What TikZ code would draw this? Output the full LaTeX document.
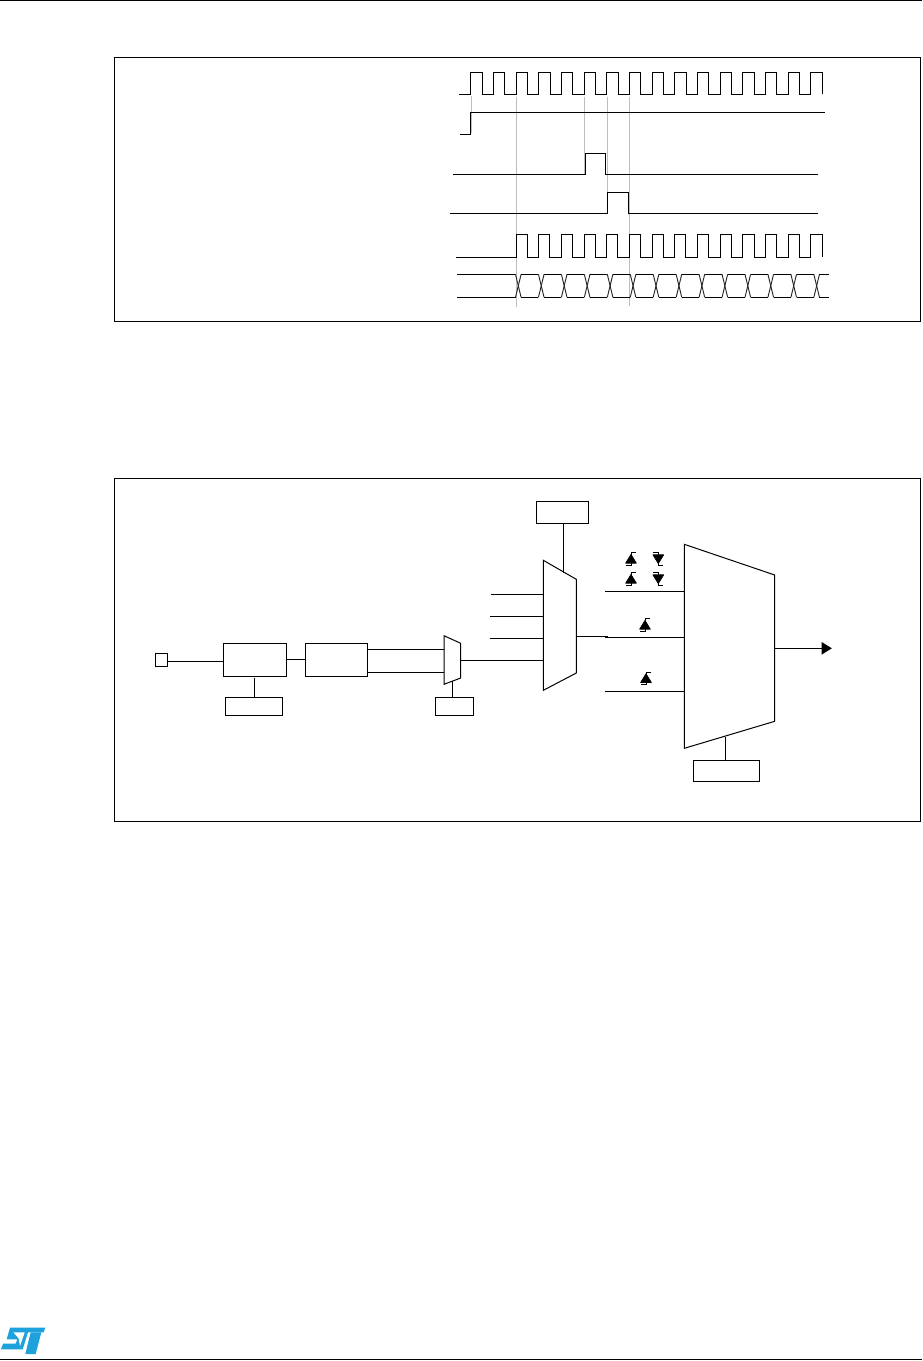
\documentclass[tikz,border=0pt]{standalone}
\usetikzlibrary{calc}
\definecolor{stblue}{HTML}{1FA2DC}
\definecolor{guide}{HTML}{BDBDBD}
\tikzset{
  wave/.style={draw=black,line width=0.75pt,line join=miter},
  dataline/.style={draw=black!85,line width=0.7pt},
  guideline/.style={draw=guide,line width=0.75pt},
  blockbox/.style={draw=black,fill=white,line width=0.75pt,inner sep=0pt,outer sep=0pt,rectangle},
  muxshape/.style={draw=black,fill=white,line width=0.75pt,line join=miter},
  wire/.style={draw=black,line width=0.75pt},
  edgesym/.style={draw=black,line width=0.6pt},
  edgetri/.style={draw=black,fill=black,line width=0.5pt,line join=round},
  rule/.style={draw=black,line width=0.9pt},
  pics/risesym/.style={code={
    \draw[edgesym] (-5,6.2) -- (0,6.2) -- (0,-6.2) -- (5,-6.2);
    \path[edgetri] (-5.4,4.2) -- (0,-4.6) -- (5.4,4.2) -- cycle;
  }},
  pics/fallsym/.style={code={
    \draw[edgesym] (-5,-6.2) -- (0,-6.2) -- (0,6.2) -- (5,6.2);
    \path[edgetri] (-5.4,-4.2) -- (0,4.6) -- (5.4,-4.2) -- cycle;
  }}
}
\newcommand{\blk}[5]{\node[blockbox,minimum width=#4*0.75pt,minimum height=#5*0.75pt] (#1) at (#2,#3) {};}
\begin{document}
\begin{tikzpicture}[x=0.75pt,y=-0.75pt]
\path[use as bounding box,fill=white] (0,0) rectangle (922,1361);
% page rules
\coordinate (ruleTL) at (0,0.6); \coordinate (ruleTR) at (922,0.6);
\coordinate (ruleBL) at (0,1359.8); \coordinate (ruleBR) at (922,1359.8);
\draw[rule] (ruleTL) -- (ruleTR);
\draw[rule] (ruleBL) -- (ruleBR);
% frames
\node[blockbox,minimum width=805.5*0.75pt,minimum height=264*0.75pt] (frameA) at (517.3,189) {};
\node[blockbox,minimum width=805.5*0.75pt,minimum height=343.4*0.75pt] (frameB) at (517.3,649.7) {};
% guide lines
\draw[guideline] (471.3,96) -- (471.3,133);
\draw[guideline] (516.6,96.7) -- (516.6,307);
\draw[guideline] (584.5,96.7) -- (584.5,175);
\draw[guideline] (607.5,96.7) -- (607.5,192);
\draw[guideline] (629.4,96.7) -- (629.4,306);
% wave 1: clock
\draw[wave] (459,94) foreach \k in {0,...,15} {
  -- ({470.7+22.67*\k},94) -- ({470.7+22.67*\k},72) -- ({482+22.67*\k},72) -- ({482+22.67*\k},94)
};
% wave 2
\draw[wave] (460,134) -- (470.7,134) -- (470.7,112.3) -- (825,112.3);
% wave 3
\draw[wave] (453,174) -- (585,174) -- (585,153.7) -- (605.7,153.7) -- (605.7,174) -- (817.7,174);
% wave 4
\draw[wave] (450,213.3) -- (607.5,213.3) -- (607.5,192.3) -- (628.7,192.3) -- (628.7,213.3) -- (818,213.3);
% wave 5
\draw[wave] (456,257) foreach \k in {0,...,13} {
  -- ({516+22.67*\k},257) -- ({516+22.67*\k},234.3) -- ({527.3+22.67*\k},234.3) -- ({527.3+22.67*\k},257)
};
% wave 6: data
\draw[wave] (457,274.3) -- (515.5,274.3);
\draw[wave] (457,297.3) -- (515.5,297.3);
\foreach \k in {0,...,13} {
  \draw[dataline] ({515.5+22.95*\k},274.3) -- ({521.1+22.95*\k},297.3);
  \draw[dataline] ({515.5+22.95*\k},297.3) -- ({521.1+22.95*\k},274.3);
}
\foreach \k in {0,...,12} {
  \draw[wave] ({521.1+22.95*\k},274.3) -- ({515.5+22.95*(\k+1)},274.3);
  \draw[wave] ({521.1+22.95*\k},297.3) -- ({515.5+22.95*(\k+1)},297.3);
}
\draw[wave] (819.4,274.3) -- (829,274.3);
\draw[wave] (819.4,297.3) -- (829,297.3);
% lower diagram
\blk{pad}{161.5}{659.8}{12.4}{13}
\blk{blockA}{254.8}{659.8}{63}{33}
\blk{blockB}{336.3}{659.8}{62}{33}
\blk{selA}{254}{706.3}{57.4}{18}
\blk{selB}{454.3}{706.3}{38}{18}
\blk{selC}{562.3}{512.5}{52}{21.6}
\blk{selD}{726.3}{770.8}{66}{21}
% mux 1
\coordinate (m1a) at (444,635.7); \coordinate (m1b) at (460.7,643.3);
\coordinate (m1c) at (460.7,678); \coordinate (m1d) at (444,684.3);
\draw[muxshape] (m1a) -- (m1b) -- (m1c) -- (m1d) -- cycle;
% mux 2
\coordinate (m2a) at (543.3,560.3); \coordinate (m2b) at (576.3,579.3);
\coordinate (m2c) at (576.3,673); \coordinate (m2d) at (543.3,690.3);
\draw[muxshape] (m2a) -- (m2b) -- (m2c) -- (m2d) -- cycle;
% mux 3
\coordinate (m3a) at (684.3,544.3); \coordinate (m3b) at (774.7,575);
\coordinate (m3c) at (774.7,721.3); \coordinate (m3d) at (684.3,748.3);
\draw[muxshape] (m3a) -- (m3b) -- (m3c) -- (m3d) -- cycle;
% connectors
\draw[wire] (pad.east |- 0,661.3) -- (blockA.west |- 0,661.3);
\draw[wire] (blockA.east |- 0,659.3) -- (blockB.west |- 0,659.3);
\draw[wire] (blockB.east |- 0,649.3) -- (m1a |- 0,649.3);
\draw[wire] (blockB.east |- 0,672.3) -- (m1a |- 0,672.3);
\draw[wire] (m1b |- 0,660.3) -- (m2a |- 0,660.3);
\draw[wire] (254.3,678.3) -- (selA.north -| 254.3,0);
\draw[wire] (452.7,681.2) -- (selB.north -| 452.7,0);
\draw[wire] (selC.south -| 563.3,0) -- (563.3,572.7);
\draw[wire] (725.7,736.8) -- (selD.north -| 725.7,0);
\coordinate (inA) at (491,594.3); \coordinate (inB) at (490,616.3); \coordinate (inC) at (490,638.3);
\draw[wire] (inA) -- (m2a |- inA);
\draw[wire] (inB) -- (m2a |- inB);
\draw[wire] (inC) -- (m2a |- inC);
\coordinate (jn) at (608.3,636.3);
\draw[wire] (m2b |- jn) -- (jn);
\coordinate (srcA) at (605,591.3); \coordinate (srcB) at (605,637.3); \coordinate (srcC) at (605,691.3);
\draw[wire] (srcA) -- (m3a |- srcA);
\draw[wire] (srcB) -- (m3a |- srcB);
\draw[wire] (srcC) -- (m3a |- srcC);
\coordinate (outEnd) at (822,648.3);
\draw[wire] (m3b |- outEnd) -- (outEnd);
\fill[black] (821.7,642) -- (831.8,648.3) -- (821.7,654.6) -- cycle;
% edge symbols
\path (631,559) pic {risesym} (631,579) pic {risesym};
\path (658.3,559) pic {fallsym} (658.3,579) pic {fallsym};
\path (645,625) pic {risesym} (646,678.3) pic {risesym};
% logo
\begin{scope}[x=0.25pt,y=-0.25pt,shift={(0,1310*3)}]
\fill[stblue] (30,53) -- (136,53) -- (131,67) -- (84,67) -- (68,118) -- (3,118)
 -- (9,101) -- (47,101) -- (52,88) -- (20,88) -- cycle;
\fill[white] (40,67) -- (74,67) -- (60,108) -- (56,85) -- cycle;
\fill[stblue] (92,67) -- (124,67) -- (107,132) -- (76,132) -- cycle;
\end{scope}
\end{tikzpicture}
\end{document}
